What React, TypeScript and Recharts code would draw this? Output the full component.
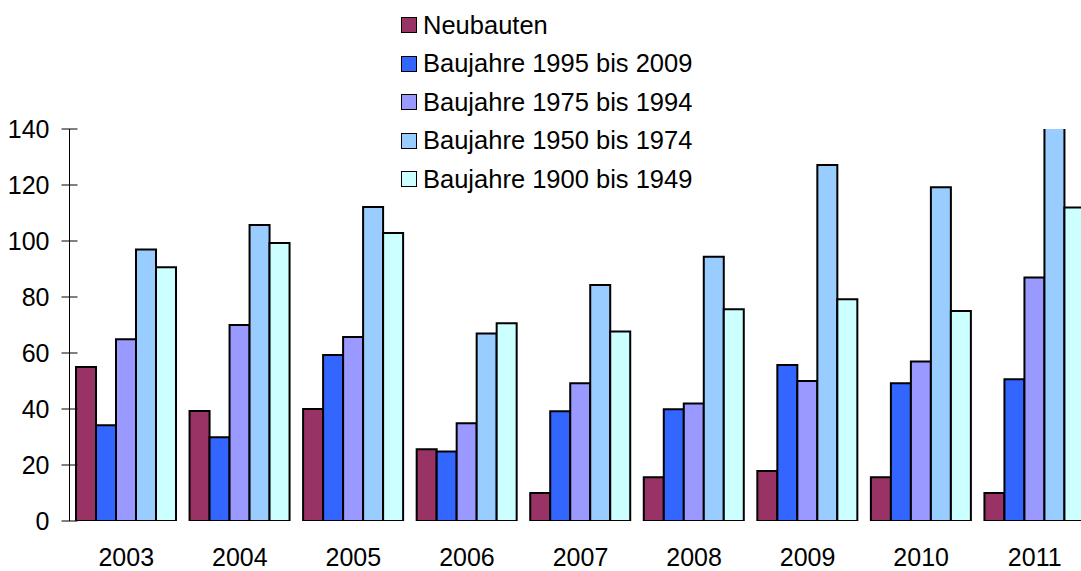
import React from 'react';
import { BarChart, Bar, XAxis, YAxis, Legend } from 'recharts';

const years = ['2003', '2004', '2005', '2006', '2007', '2008', '2009', '2010', '2011'];
const neubauten = [55, 39.3, 40, 25.6, 10, 15.6, 17.9, 15.6, 10];
const bj1995 = [34.2, 29.9, 59.3, 24.8, 39.2, 39.9, 55.7, 49.2, 50.6];
const bj1975 = [64.9, 70, 65.7, 34.9, 49.2, 42, 50, 57, 87];
const bj1950 = [97, 105.7, 112.1, 67, 84.3, 94.4, 127.1, 119.2, 150];
const bj1900 = [90.6, 99.3, 102.9, 70.6, 67.7, 75.6, 79.2, 75, 112];
const yTicks = [0, 20, 40, 60, 80, 100, 120, 140];

const seriesNames = [
  'Neubauten',
  'Baujahre 1995 bis 2009',
  'Baujahre 1975 bis 1994',
  'Baujahre 1950 bis 1974',
  'Baujahre 1900 bis 1949',
];
const seriesKeys = ['neu', 'b1995', 'b1975', 'b1950', 'b1900'];
const seriesColors = ['#993366', '#3366FF', '#9999FF', '#99CCFF', '#CCFFFF'];
const seriesValues = [neubauten, bj1995, bj1975, bj1950, bj1900];

const data = years.map((y, i) => {
  const row: Record<string, string | number> = { year: y };
  seriesKeys.forEach((k, s) => {
    row[k] = seriesValues[s][i];
  });
  return row;
});

const FONT = '"Liberation Sans", Arial, sans-serif';

const YTick = (props: any) => {
  const { x, y, payload } = props;
  const axisX = x + 20;
  return (
    <g>
      <line x1={axisX - 8} x2={axisX + 8} y1={y} y2={y} stroke="#000" strokeWidth={1} />
      <text x={x} y={y} dy="0.355em" textAnchor="end" fontSize={25} fontFamily={FONT} fill="#000">
        {payload.value}
      </text>
    </g>
  );
};

const renderLegend = () => (
  <div style={{ fontFamily: FONT, fontSize: 25.5, color: '#000' }}>
    {seriesNames.map((name, i) => (
      <div key={name} style={{ height: 38.5, display: 'flex', alignItems: 'center', whiteSpace: 'nowrap' }}>
        <span
          style={{
            display: 'inline-block',
            width: 14,
            height: 14,
            background: seriesColors[i],
            border: '1.5px solid #000',
            marginRight: 6,
          }}
        />
        <span>{name}</span>
      </div>
    ))}
  </div>
);

export default function App() {
  return (
    <div style={{ position: 'fixed', left: 0, top: 0, width: 1081, height: 571, overflow: 'hidden', background: '#fff' }}>
      <BarChart
        width={1100}
        height={571}
        data={data}
        margin={{ top: 129, right: 8.5, left: 9.5, bottom: 0 }}
        barCategoryGap={6.5}
        barGap={0}
      >
        <XAxis
          dataKey="year"
          axisLine={false}
          tickLine={false}
          tickSize={0}
          tickMargin={27}
          height={50}
          interval={0}
          tick={{ fontSize: 25, fontFamily: FONT, fill: '#000' }}
        />
        <YAxis
          width={60}
          domain={[0, 140]}
          ticks={yTicks}
          allowDataOverflow
          axisLine={{ stroke: '#000', strokeWidth: 1 }}
          tickLine={false}
          tickSize={0}
          tickMargin={20}
          tick={<YTick />}
          interval={0}
        />
        <Legend
          layout="vertical"
          align="center"
          verticalAlign="middle"
          content={renderLegend}
          wrapperStyle={{ left: 401, top: 5.75, width: 'auto', height: 'auto' }}
        />
        {seriesKeys.map((k, i) => (
          <Bar
            key={k}
            dataKey={k}
            name={seriesNames[i]}
            fill={seriesColors[i]}
            stroke="#000"
            strokeWidth={2}
            isAnimationActive={false}
          />
        ))}
      </BarChart>
    </div>
  );
}
